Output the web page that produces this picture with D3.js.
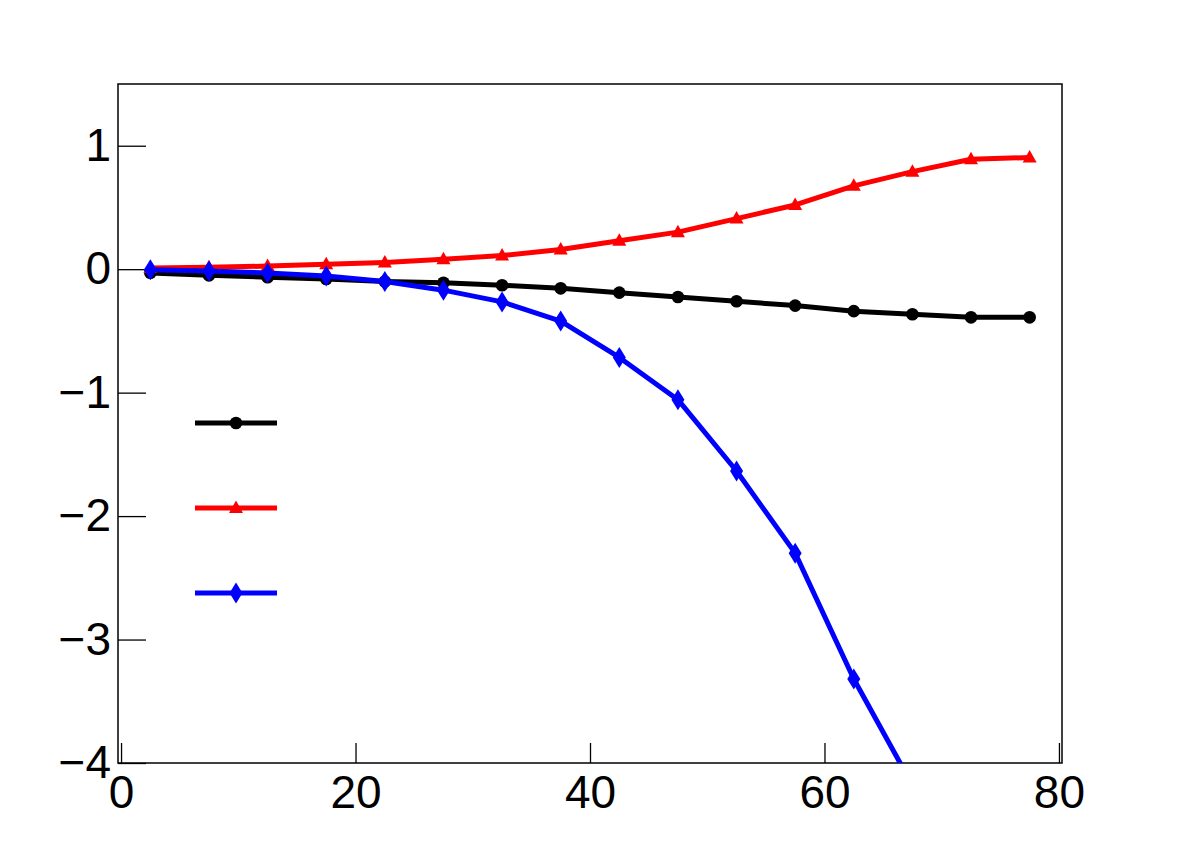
<!DOCTYPE html>
<html>
<head>
<meta charset="utf-8">
<script src="https://cdn.jsdelivr.net/npm/d3@7"></script>
<style>
  body { margin: 0; background: #fff; }
  .axis text { font-family: "Liberation Sans", Arial, sans-serif; font-size: 46px; fill: #000; }
  .axis line { stroke: #000; stroke-width: 1.3; }
</style>
</head>
<body>
<div id="chart"></div>
<script>
const width = 1182;
const height = 848;
const margin = { top: 84, right: 120, bottom: 85, left: 118 };

// bin centres
const xVals = [2.5, 7.5, 12.5, 17.5, 22.5, 27.5, 32.5, 37.5, 42.5, 47.5, 52.5, 57.5, 62.5, 67.5, 72.5, 77.5];
const blackVals = [-0.03, -0.05, -0.065, -0.08, -0.10, -0.11, -0.13, -0.155, -0.19, -0.225, -0.26, -0.295, -0.34, -0.365, -0.39, -0.39];
const redVals = [0.01, 0.015, 0.025, 0.04, 0.055, 0.08, 0.11, 0.16, 0.23, 0.30, 0.41, 0.52, 0.675, 0.79, 0.89, 0.905];
const blueVals = [-0.005, -0.015, -0.03, -0.055, -0.10, -0.17, -0.265, -0.42, -0.715, -1.057, -1.635, -2.30, -3.32, -4.18];

const xTicks = [0, 20, 40, 60, 80];
const yTicks = [1, 0, -1, -2, -3, -4];

const series = [
  { name: 'black', color: '#000', marker: 'circle', values: blackVals },
  { name: 'red', color: '#f00', marker: 'triangle', values: redVals },
  { name: 'blue', color: '#00f', marker: 'diamond', values: blueVals }
];

const svg = d3.select('#chart')
  .append('svg')
  .attr('width', width)
  .attr('height', height);

const x = d3.scaleLinear()
  .domain([-0.26, 80.26])
  .range([margin.left, width - margin.right]);

const y = d3.scaleLinear()
  .domain([-4, 1.5])
  .range([height - margin.bottom, margin.top]);

svg.append('defs').append('clipPath')
  .attr('id', 'frame-clip')
  .append('rect')
  .attr('x', margin.left)
  .attr('y', margin.top)
  .attr('width', width - margin.left - margin.right)
  .attr('height', height - margin.top - margin.bottom);

// axes, ticks pointing inward
svg.append('g')
  .attr('class', 'axis')
  .attr('transform', `translate(${margin.left},0)`)
  .call(d3.axisLeft(y).tickValues(yTicks).tickFormat(d3.format('d')).tickSize(-28).tickPadding(7))
  .call(g => g.select('.domain').remove());

svg.append('g')
  .attr('class', 'axis')
  .attr('transform', `translate(0,${height - margin.bottom})`)
  .call(d3.axisBottom(x).tickValues(xTicks).tickFormat(d3.format('d')).tickSize(-20).tickPadding(12))
  .call(g => g.select('.domain').remove());

// frame
svg.append('rect')
  .attr('x', margin.left)
  .attr('y', margin.top)
  .attr('width', width - margin.left - margin.right)
  .attr('height', height - margin.top - margin.bottom)
  .attr('fill', 'none')
  .attr('stroke', '#000')
  .attr('stroke-width', 1.5);

const markerPath = {
  circle: d3.symbol(d3.symbolCircle, 125)(),
  triangle: 'M0,-7.5L7,5L-7,5Z',
  diamond: 'M0,-10.5L6.5,0L0,10.5L-6.5,0Z'
};

const line = d3.line()
  .x((d, i) => x(xVals[i]))
  .y(d => y(d));

const plot = svg.append('g').attr('clip-path', 'url(#frame-clip)');

series.forEach(s => {
  plot.append('path')
    .datum(s.values)
    .attr('fill', 'none')
    .attr('stroke', s.color)
    .attr('stroke-width', 5)
    .attr('stroke-linejoin', 'round')
    .attr('d', line);

  plot.selectAll(`.pt-${s.name}`)
    .data(s.values.filter(v => v >= -4 && v <= 1.5))
    .enter().append('path')
    .attr('class', `pt-${s.name}`)
    .attr('fill', s.color)
    .attr('d', markerPath[s.marker])
    .attr('transform', (d, i) => `translate(${x(xVals[i])},${y(d)})`);
});

// legend (no labels)
const legendY = [423, 508, 593];
const legend = svg.append('g');
series.forEach((s, i) => {
  const g = legend.append('g').attr('transform', `translate(236,${legendY[i]})`);
  g.append('line')
    .attr('x1', -41).attr('x2', 41)
    .attr('stroke', s.color)
    .attr('stroke-width', 5);
  g.append('path')
    .attr('fill', s.color)
    .attr('d', markerPath[s.marker]);
});
</script>
</body>
</html>
